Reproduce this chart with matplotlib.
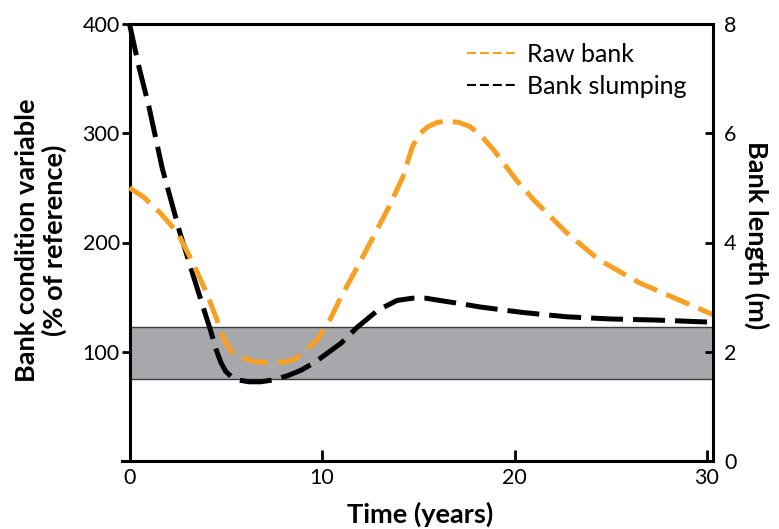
import matplotlib
matplotlib.use("Agg")
import matplotlib.pyplot as plt
from matplotlib.lines import Line2D

plt.rcParams['font.family'] = ['Lato', 'DejaVu Sans']

# data
years_raw = [0, 0.7, 1.6, 2.5, 3.3, 4.0, 4.55, 4.9, 5.3, 5.75, 6.5, 7.3, 8.0, 8.5,
             9.1, 9.75, 10.4, 10.9, 11.6, 12.3, 13.4, 14.2, 14.7, 15.1, 15.5, 16.0,
             16.5, 17.1, 17.7, 18.3, 18.9, 20.1, 21.0, 22.7, 24.4, 26.5, 28.6, 30.3]
raw_bank = [250, 242, 227, 209, 181, 154, 129, 111, 100, 95, 91, 90, 90.5, 92.5,
            100, 111, 129, 147, 170, 193, 230, 260, 288, 300, 306, 310,
            311, 310, 306, 297, 285, 257, 239, 209, 184, 163, 147, 134]

years_slump = [0, 0.5, 1.0, 1.7, 2.6, 3.5, 4.2, 4.5, 4.75, 5.0, 5.3, 5.7, 6.2, 6.8,
               7.4, 8.2, 8.9, 9.6, 10.3, 11.0, 11.8, 12.9, 13.9, 14.7, 15.4, 16.1,
               17.2, 18.2, 20.4, 22.7, 25.0, 27.4, 30.3]
bank_slumping = [400, 360, 325, 268, 210, 159, 120, 102, 90, 82, 77, 74, 72.5, 72.5,
                 74, 78, 83, 90, 99, 108, 122, 138, 147, 149, 149, 147,
                 144, 141, 136, 132, 130, 129, 127]

band_low, band_high = 75, 123
x_min, x_max = -0.39, 30.31

left_ticks = [100, 200, 300, 400]
right_ticks = [0, 2, 4, 6, 8]
x_ticks = [0, 10, 20, 30]

orange = "#f7a024"
band_color = "#a7a8ab"


def main():
    fig = plt.figure(figsize=(7.79, 5.29), dpi=100)
    ax = fig.add_axes([122 / 779, 1 - 461 / 529, 591 / 779, 437 / 529])
    ax2 = ax.twinx()

    # reference band
    ax.fill_between([0, x_max], band_low, band_high, facecolor=band_color,
                    edgecolor="#3c3c3c", lw=1.0, zorder=1)

    ax.plot(years_slump, bank_slumping, color="black", lw=3.6,
            dashes=(6.4, 2.0), dash_capstyle="butt", zorder=3)
    ax.plot(years_raw, raw_bank, color=orange, lw=3.6,
            dashes=(5.0, 2.0), dash_capstyle="butt", zorder=4)

    ax.set_xlim(x_min, x_max)
    ax.set_ylim(0, 400)
    ax2.set_ylim(0, 8)

    # spines
    ax.spines["left"].set_position(("data", 0))
    ax.spines["right"].set_visible(False)
    ax.spines["top"].set_bounds(0, x_max)
    for s in ["left", "bottom", "top"]:
        ax.spines[s].set_linewidth(2.2)
    for s in ["left", "bottom", "top"]:
        ax2.spines[s].set_visible(False)
    ax2.spines["right"].set_linewidth(2.2)

    # ticks
    ax.set_xticks(x_ticks)
    ax.set_yticks(left_ticks)
    ax2.set_yticks(right_ticks)
    ax.tick_params(axis="x", direction="in", length=8, width=2, labelsize=15.5, pad=5)
    ax.tick_params(axis="y", direction="out", length=6, width=2, labelsize=15.5, pad=1)
    ax2.tick_params(axis="y", direction="in", length=6, width=2, labelsize=15.5, pad=8)

    # labels
    fig.text(420 / 779, 1 - 523 / 529, "Time (years)", ha="center", va="baseline",
             fontsize=19.5, fontweight="bold")
    fig.text(41 / 779, 1 - 240 / 529, "Bank condition variable\n(% of reference)",
             rotation=90, ha="center", va="center", multialignment="center",
             fontsize=19.5, fontweight="bold", linespacing=1.15)
    fig.text(757 / 779, 1 - 235 / 529, "Bank length (m)", rotation=270,
             ha="center", va="center", fontsize=19.5, fontweight="bold")

    # legend with thin dashed handles
    handles = [
        Line2D([], [], color=orange, lw=1.5, dashes=(4.3, 1.9)),
        Line2D([], [], color="black", lw=1.5, dashes=(4.3, 1.9)),
    ]
    ax.legend(handles, ["Raw bank", "Bank slumping"], loc="upper left",
              bbox_to_anchor=(467 / 779, 1 - 43 / 529),
              bbox_transform=fig.transFigure, frameon=False, fontsize=18,
              handlelength=2.0, handletextpad=0.4, borderpad=0,
              borderaxespad=0, labelspacing=0.35)

    fig.savefig("out.png", dpi=100)


if __name__ == "__main__":
    main()
